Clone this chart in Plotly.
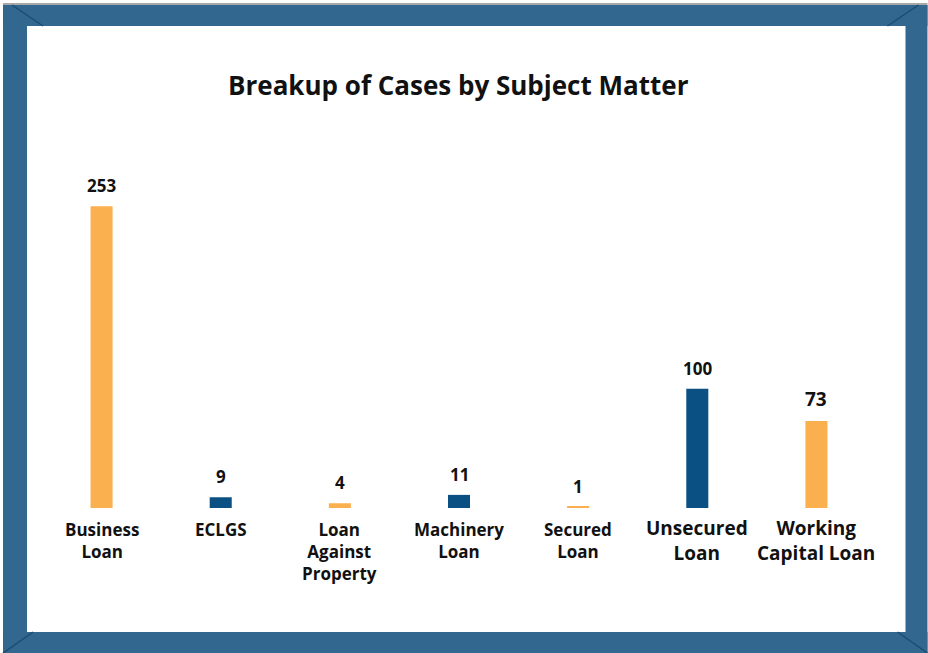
import plotly.graph_objects as go

categories = ["Business Loan", "ECLGS", "Loan Against Property", "Machinery Loan",
              "Secured Loan", "Unsecured Loan", "Working Capital Loan"]
tick_labels = ["Business<br>Loan", "ECLGS", "Loan<br>Against<br>Property", "Machinery<br>Loan",
               "Secured<br>Loan", "Unsecured<br>Loan", "Working<br>Capital Loan"]
values = [253, 9, 4, 11, 1, 100, 73]

ORANGE = "#FBB04F"
BLUE = "#0B5083"
FRAME = "#32678F"
bar_colors = [ORANGE, BLUE, ORANGE, BLUE, ORANGE, BLUE, ORANGE]
label_sizes = [17, 17, 17, 17, 17, 19, 19]
label_shift = [-8, -8, -8, -8, -8, -5, -5]
value_sizes = [17, 17, 17, 17, 17, 17, 19]

W, H = 928, 653
L, R, T, B = 42, 51.5, 130, 145
PW, PH = W - L - R, H - T - B


def px(x):
    return (x - L) / PW


def py(y):
    return (H - B - y) / PH


fig = go.Figure(go.Bar(x=categories, y=values, marker_color=bar_colors,
                       marker_line_width=0, width=0.185, hoverinfo="x+y"))

annotations = []
for c, v, s in zip(categories, values, value_sizes):
    annotations.append(dict(x=c, y=v, xref="x", yref="y", text=f"<b>{v}</b>",
                            showarrow=False, yanchor="bottom", yshift=7,
                            font=dict(family="Open Sans", size=s, color="#111111")))
for c, t, s, sh in zip(categories, tick_labels, label_sizes, label_shift):
    annotations.append(dict(x=c, y=0, xref="x", yref="paper", text=f"<b>{t}</b>",
                            showarrow=False, yanchor="top", yshift=sh,
                            font=dict(family="Open Sans", size=s, color="#111111")))

shapes = []
def rect(x0, y0, x1, y1, color):
    shapes.append(dict(type="rect", xref="paper", yref="paper",
                       x0=px(x0), x1=px(x1), y0=py(y1), y1=py(y0),
                       fillcolor=color, line_width=0, layer="above"))

def line(x0, y0, x1, y1, color):
    shapes.append(dict(type="line", xref="paper", yref="paper",
                       x0=px(x0), x1=px(x1), y0=py(y0), y1=py(y1),
                       line=dict(color=color, width=1.5), layer="above"))

# picture frame
rect(3, 3, 928, 5, "#A8A8A8")
rect(3, 5, 928, 26, FRAME)          # top
rect(3, 632, 928, 653, FRAME)       # bottom
rect(3, 5, 27, 653, FRAME)          # left
rect(906, 5, 928, 653, FRAME)       # right
DIAG = "#1D4C72"
line(12, 5, 43, 26, DIAG)
line(919, 5, 888, 26, DIAG)
line(3, 653, 33, 632, DIAG)
line(898, 632, 928, 653, DIAG)

fig.update_layout(
    width=W, height=H,
    margin=dict(l=L, r=R, t=T, b=B, pad=0),
    paper_bgcolor="white", plot_bgcolor="white",
    showlegend=False,
    title=dict(text="<b>Breakup of Cases by Subject Matter</b>",
               x=px(458.5), xref="paper", xanchor="center",
               y=1 - 86 / H, yref="container", yanchor="middle",
               font=dict(family="Open Sans", size=26, color="#111111")),
    xaxis=dict(showticklabels=False, showgrid=False, zeroline=False, showline=False,
               ticks="", range=[-0.5, 6.5]),
    yaxis=dict(visible=False, range=[0, PH / 1.193], showgrid=False, zeroline=False),
    annotations=annotations,
    shapes=shapes,
)

fig.write_html("out.html", config={"displayModeBar": False},
               post_script="document.body.style.margin='0px';")
